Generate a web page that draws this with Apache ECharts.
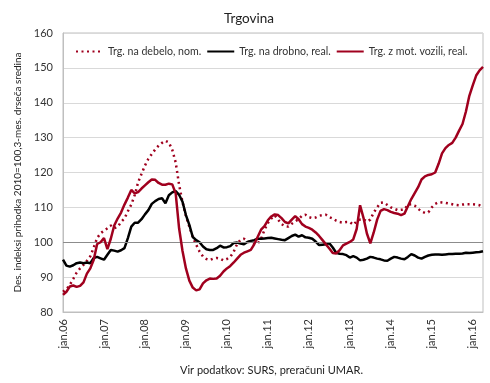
<!DOCTYPE html>
<html>
<head>
<meta charset="utf-8">
<script src="https://cdn.jsdelivr.net/npm/echarts@6/dist/echarts.min.js"></script>
<style>html,body{margin:0;padding:0;background:#fff}#c{width:490px;height:383px}</style>
</head>
<body>
<div id="c"></div>
<script>
const monthNames = ["jan","feb","mar","apr","maj","jun","jul","avg","sep","okt","nov","dec"];
const years = ["06","07","08","09","10","11","12","13","14","15","16"];
const yTicks = [80, 90, 100, 110, 120, 130, 140, 150, 160];
const seriesNames = ["Trg. na debelo, nom.", "Trg. na drobno, real.", "Trg. z mot. vozili, real."];

// categories: jan.06 ... apr.16
const categories = [];
years.forEach(y => monthNames.forEach(m => categories.push(m + "." + y)));
categories.length = 124;

const wholesale = [
85.8,86.5,87.8,89.5,91.3,92.5,93.5,94.7,96.0,98.5,101.2,102.6,
103.3,104.0,104.8,104.0,104.4,105.8,106.8,108.9,110.8,113.5,117.2,119.6,
122.0,123.9,125.3,126.6,127.7,128.5,129.1,128.6,126.5,122.9,116.5,111.5,
107.5,104.5,101.5,99.3,97.3,95.9,95.2,94.9,95.3,95.5,95.3,94.8,
95.2,95.8,97.3,99.5,100.7,101.0,100.2,99.8,99.6,99.6,101.0,103.5,
105.5,106.8,107.7,106.5,105.2,104.6,104.5,105.3,106.0,106.6,107.6,107.9,
107.2,106.9,107.1,107.6,107.8,107.9,107.2,106.8,106.2,105.8,105.6,105.8,
105.8,105.0,106.0,106.5,106.6,105.9,106.5,108.5,110.0,111.3,111.4,110.7,
110.0,109.6,109.2,109.3,109.4,110.8,110.9,110.5,109.6,108.8,108.4,108.6,
110.0,111.0,111.5,111.4,111.3,111.1,110.9,110.7,110.6,110.8,110.9,110.9,
110.9,110.8,110.6,110.1
];

const retail = [
95.0,93.3,93.0,93.4,94.0,94.2,94.0,94.2,94.0,95.5,95.8,95.4,
95.0,96.4,97.8,97.6,97.3,97.7,98.3,101.2,104.5,105.6,105.6,106.6,
108.0,109.2,111.0,111.8,112.4,112.6,111.2,113.5,114.3,114.7,113.6,111.6,
107.8,105.0,101.5,100.6,100.0,98.8,98.0,97.8,97.8,98.3,99.0,98.5,
98.6,98.9,99.8,99.9,99.6,99.4,100.1,100.4,100.6,101.0,101.0,101.1,
101.2,101.3,101.1,100.9,100.7,100.6,101.2,101.8,102.2,101.6,102.0,101.4,
101.3,101.0,100.2,99.2,99.3,99.4,99.7,98.5,97.0,96.7,96.6,96.3,
95.6,96.0,95.6,94.8,95.0,95.3,95.8,95.6,95.3,95.1,94.8,94.7,
95.3,95.8,95.6,95.3,95.1,95.8,96.6,96.2,95.6,95.3,95.8,96.2,
96.4,96.5,96.5,96.4,96.5,96.6,96.6,96.7,96.7,96.8,97.0,96.9,
97.0,97.1,97.2,97.4
];

const motor = [
84.9,85.8,87.3,87.6,87.2,87.5,88.5,91.0,92.5,95.0,99.5,100.0,
101.2,98.0,101.0,104.8,106.8,108.5,110.8,112.8,115.0,114.0,114.4,115.4,
116.3,117.2,118.0,117.9,117.0,116.5,116.5,116.8,116.6,114.0,104.0,97.5,
92.5,89.0,87.0,86.2,86.5,88.2,89.1,89.6,89.5,89.6,90.4,91.6,
92.5,93.2,94.2,95.3,96.4,97.0,97.4,97.8,99.4,101.5,103.6,104.6,
106.3,107.4,108.0,107.8,106.9,105.8,105.4,106.5,107.5,106.6,105.2,104.5,
104.1,103.6,102.8,101.8,100.6,99.4,98.2,96.9,96.8,97.7,99.1,99.6,
100.1,100.8,103.8,110.6,107.0,102.5,99.7,102.8,106.5,109.0,109.5,109.2,
108.7,108.4,108.2,107.8,108.2,110.3,112.4,114.1,115.8,118.0,118.9,119.3,
119.5,120.0,122.5,125.5,127.0,127.9,128.5,130.0,132.0,133.9,137.5,142.0,
145.0,147.8,149.3,150.3
];

const RED = "#a0001e";
const FONT = "Lato, 'Open Sans', sans-serif";
const chart = echarts.init(document.getElementById('c'));
chart.setOption({
  animation: false,
  backgroundColor: "#fff",
  textStyle: { fontFamily: FONT },
  title: {
    text: "Trgovina", left: 244, top: 7, textAlign: "center",
    textStyle: { fontFamily: FONT, fontSize: 13.5, fontWeight: "normal", color: "#222" }
  },
  legend: {
    left: 70, top: 41, width: 418, itemWidth: 27, itemHeight: 10, itemGap: 5,
    itemStyle: { opacity: 0 },
    textStyle: { fontFamily: FONT, fontSize: 10.6, color: "#333" },
    data: seriesNames
  },
  grid: { left: 63, right: 7, top: 33, bottom: 71, show: true, borderColor: "#bfbfbf", borderWidth: 1 },
  xAxis: {
    type: "category", data: categories, boundaryGap: false,
    axisLine: { lineStyle: { color: "#bfbfbf" } },
    axisTick: { show: false },
    axisLabel: { interval: 11, rotate: 90, fontFamily: FONT, fontSize: 11, color: "#333", margin: 7 },
    splitLine: { show: false }
  },
  yAxis: {
    type: "value", min: yTicks[0], max: yTicks[yTicks.length - 1], interval: 10,
    name: "Des. indeksi prihodka 2010=100,3-mes. drseča sredina",
    nameLocation: "middle", nameGap: 40, nameRotate: 90,
    nameTextStyle: { fontFamily: FONT, fontSize: 10, color: "#222" },
    axisLine: { show: true, lineStyle: { color: "#bfbfbf" } },
    axisTick: { show: false },
    axisLabel: { fontFamily: FONT, fontSize: 11, color: "#333", margin: 10 },
    splitLine: { lineStyle: { color: "#d9d9d9" } }
  },
  graphic: [{
    type: "text", left: 180, top: 365,
    style: { text: "Vir podatkov: SURS, preračuni UMAR.", font: "11px " + FONT, fill: "#222" }
  }],
  series: [
    {
      name: seriesNames[0], type: "line", data: wholesale, symbol: "none", z: 3,
      lineStyle: { color: RED, width: 2.5, type: [2, 3.5] }, itemStyle: { color: RED },
      markLine: {
        silent: true, symbol: "none", label: { show: false },
        lineStyle: { color: "#8c8c8c", width: 1, type: "solid" },
        data: [{ yAxis: 100 }]
      }
    },
    {
      name: seriesNames[1], type: "line", data: retail, symbol: "none", z: 4,
      lineStyle: { color: "#000", width: 2.5 }, itemStyle: { color: "#000" }
    },
    {
      name: seriesNames[2], type: "line", data: motor, symbol: "none", z: 5,
      lineStyle: { color: RED, width: 2.5 }, itemStyle: { color: RED }
    }
  ]
});
</script>
</body>
</html>
